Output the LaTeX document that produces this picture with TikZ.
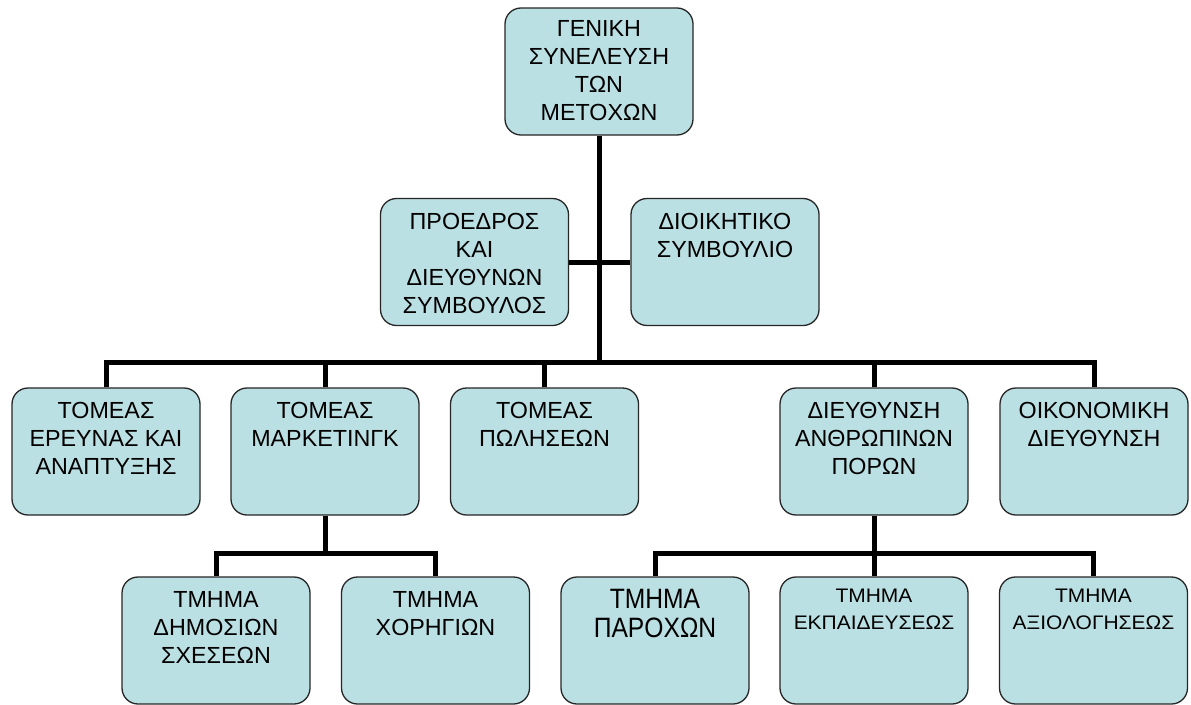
\documentclass[tikz,border=0pt]{standalone}
\usepackage{fontspec}
\setmainfont{Liberation Sans}
\newfontfamily\narrowf[FakeStretch=0.88]{Liberation Sans}
\newfontfamily\widef[FakeStretch=1.07]{Liberation Sans}
\definecolor{boxblue}{RGB}{187,224,227}
\newcommand{\bxt}[2][14]{\parbox[c][127pt][t]{188pt}{\centering\vspace*{#1pt}#2\par}}
\tikzset{
  box/.style={draw=black!85, line width=1.3pt, fill=boxblue, rounded corners=16pt,
              inner sep=0pt, font=\fontsize{23.3}{28}\selectfont},
  conn/.style={draw=black, line width=5pt, line join=miter}
}
\begin{document}
\begin{tikzpicture}[x=1pt,y=-1pt]
\path[use as bounding box, fill=white] (0,0) rectangle (1191,704);

% top
\node[box] (gen) at (599,71.5) {\bxt[12]{ΓΕΝΙΚΗ\\ΣΥΝΕΛΕΥΣΗ\\ΤΩΝ\\ΜΕΤΟΧΩΝ}};
% middle
\node[box] (pres) at (474.5,262) {\bxt[15]{ΠΡΟΕΔΡΟΣ\\ΚΑΙ\\ΔΙΕΥΘΥΝΩΝ\\ΣΥΜΒΟΥΛΟΣ}};
\node[box] (board) at (725,262) {\bxt[15]{ΔΙΟΙΚΗΤΙΚΟ\\ΣΥΜΒΟΥΛΙΟ}};
% level 1
\node[box] (r1) at (106,451.5) {\bxt{ΤΟΜΕΑΣ\\ΕΡΕΥΝΑΣ ΚΑΙ\\ΑΝΑΠΤΥΞΗΣ}};
\node[box] (r2) at (325,451.5) {\bxt{ΤΟΜΕΑΣ\\ΜΑΡΚΕΤΙΝΓΚ}};
\node[box] (r3) at (544.5,451.5) {\bxt{ΤΟΜΕΑΣ\\ΠΩΛΗΣΕΩΝ}};
\node[box] (r4) at (874,451.5) {\bxt{ΔΙΕΥΘΥΝΣΗ\\ΑΝΘΡΩΠΙΝΩΝ\\ΠΟΡΩΝ}};
\node[box] (r5) at (1094,451.5) {\bxt{ΟΙΚΟΝΟΜΙΚΗ\\ΔΙΕΥΘΥΝΣΗ}};
% level 2
\node[box] (d1) at (216,640.5) {\bxt{ΤΜΗΜΑ\\ΔΗΜΟΣΙΩΝ\\ΣΧΕΣΕΩΝ}};
\node[box] (d2) at (435.5,640.5) {\bxt{ΤΜΗΜΑ\\ΧΟΡΗΓΙΩΝ}};
\node[box, font=\narrowf\fontsize{28}{29}\selectfont] (d3) at (655,640.5) {\bxt[12]{ΤΜΗΜΑ\\ΠΑΡΟΧΩΝ}};
\node[box, font=\widef\fontsize{19.6}{26.7}\selectfont] (d4) at (874,640.5) {\bxt[12]{ΤΜΗΜΑ\\ΕΚΠΑΙΔΕΥΣΕΩΣ}};
\node[box, font=\widef\fontsize{19.6}{26.7}\selectfont] (d5) at (1093.5,640.5) {\bxt[12]{ΤΜΗΜΑ\\ΑΞΙΟΛΟΓΗΣΕΩΣ}};

% connectors
\coordinate (bus) at (599,362);
\coordinate (mk) at (325,553);
\coordinate (hr) at (874,553);
\draw[conn] (gen.south) -- (bus);
\draw[conn] (pres.east) -- (board.west);
\draw[conn] (r1.north) |- (bus) -| (r5.north);
\draw[conn] (r2.north) -- (r2.north |- bus);
\draw[conn] (r3.north) -- (r3.north |- bus);
\draw[conn] (r4.north) -- (r4.north |- bus);
\draw[conn] (r2.south) -- (mk);
\draw[conn] (d1.north) |- (mk) -| (d2.north);
\draw[conn] (r4.south) -- (d4.north);
\draw[conn] (d3.north) |- (hr) -| (d5.north);
\end{tikzpicture}
\end{document}
